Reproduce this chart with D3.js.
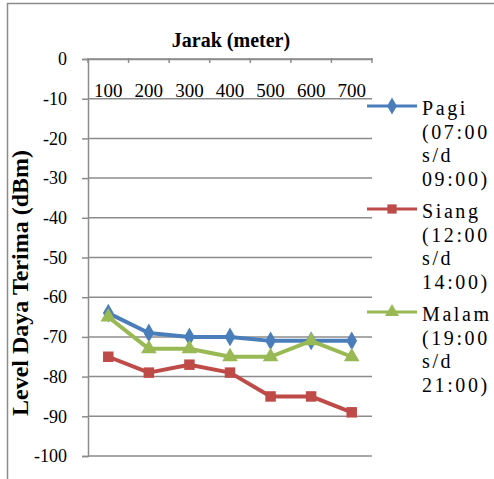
<!DOCTYPE html>
<html>
<head>
<meta charset="utf-8">
<script src="https://cdn.jsdelivr.net/npm/d3@7"></script>
<style>
  body { margin: 0; background: #fff; }
  svg { display: block; }
  svg text { font-family: "Liberation Serif", "Times New Roman", serif; fill: #000; }
</style>
</head>
<body>
<svg width="494" height="479"></svg>
<script>
const width = 494;
const height = 479;

// Data
const jarak = ['100', '200', '300', '400', '500', '600', '700'];
const pagi = [-64, -69, -70, -70, -71, -71, -71];
const siang = [-75, -79, -77, -79, -85, -85, -89];
const malam = [-65, -73, -73, -75, -75, -71, -75];
const yTicks = [0, -10, -20, -30, -40, -50, -60, -70, -80, -90, -100];

const series = [
    { name: ['Pagi', '(07:00', 's/d', '09:00)'], values: pagi, color: '#4a7ebb', symbol: d3.symbolDiamond, size: 100 },
    { name: ['Siang', '(12:00', 's/d', '14:00)'], values: siang, color: '#be4b48', symbol: d3.symbolSquare, size: 110 },
    { name: ['Malam', '(19:00', 's/d', '21:00)'], values: malam, color: '#98b954', symbol: d3.symbolTriangle, size: 105 }
];

const plot = { left: 88, right: 372, top: 59, bottom: 456 };
const gridColor = '#8c8c8c';

const svg = d3.select('svg');

// Outer chart border (clipped at right and bottom)
svg.append('path')
    .attr('d', `M7.5,${height} V3.5 H${width}`)
    .attr('fill', 'none')
    .attr('stroke', gridColor)
    .attr('stroke-width', 1.5);

const xScale = d3.scaleBand()
    .domain(jarak)
    .range([plot.left, plot.right]);

const yScale = d3.scaleLinear()
    .domain([-100, 0])
    .range([plot.bottom, plot.top]);

// Gridlines
svg.append('g')
    .selectAll('line')
    .data(yTicks)
    .enter().append('line')
    .attr('x1', plot.left)
    .attr('x2', plot.right)
    .attr('y1', d => yScale(d))
    .attr('y2', d => yScale(d))
    .attr('stroke', gridColor)
    .attr('stroke-width', 1.5);

// Y axis
const yAxis = d3.axisLeft(yScale)
    .tickValues(yTicks)
    .tickSize(6)
    .tickPadding(15)
    .tickFormat(d => String(d));

const yG = svg.append('g')
    .attr('transform', `translate(${plot.left}, 0)`)
    .call(yAxis);
yG.select('.domain').attr('stroke', gridColor).attr('stroke-width', 1.5);
yG.selectAll('.tick line').attr('stroke', gridColor).attr('stroke-width', 1.5);
yG.selectAll('.tick text')
    .style('font-size', '18px');

// X axis at top (value 0)
const xAxis = d3.axisBottom(xScale)
    .tickSize(0)
    .tickPadding(25);

const xG = svg.append('g')
    .attr('transform', `translate(0, ${yScale(0)})`)
    .call(xAxis);
xG.select('.domain').attr('stroke', gridColor).attr('stroke-width', 1.5);
xG.selectAll('.tick text')
    .style('font-size', '19px');

// Category boundary tick marks
const bounds = jarak.map(d => xScale(d)).concat([plot.right]);
xG.selectAll('.bound')
    .data(bounds)
    .enter().append('line')
    .attr('class', 'bound')
    .attr('x1', d => d)
    .attr('x2', d => d)
    .attr('y1', -1)
    .attr('y2', 4)
    .attr('stroke', gridColor)
    .attr('stroke-width', 1.5);

// Lines and markers
const cx = i => xScale(jarak[i]) + xScale.bandwidth() / 2;
const line = d3.line()
    .x((d, i) => cx(i))
    .y(d => yScale(d));

series.forEach(s => {
    svg.append('path')
        .datum(s.values)
        .attr('d', line)
        .attr('fill', 'none')
        .attr('stroke', s.color)
        .attr('stroke-width', 4)
        .attr('stroke-linejoin', 'round');

    svg.append('g')
        .selectAll('path')
        .data(s.values)
        .enter().append('path')
        .attr('d', d3.symbol().type(s.symbol).size(s.size))
        .attr('transform', (d, i) => `translate(${cx(i)}, ${yScale(d)})`)
        .attr('fill', s.color);
});

// Title
svg.append('text')
    .attr('x', 231)
    .attr('y', 47)
    .attr('text-anchor', 'middle')
    .style('font-weight', 'bold')
    .style('font-size', '20px')
    .text('Jarak (meter)');

// Y axis title
svg.append('text')
    .attr('transform', 'translate(28, 283) rotate(-90)')
    .attr('text-anchor', 'middle')
    .style('font-weight', 'bold')
    .style('font-size', '24px')
    .text('Level Daya Terima (dBm)');

// Legend
const legend = svg.append('g');
series.forEach((s, i) => {
    const y0 = 106 + i * 103;
    legend.append('line')
        .attr('x1', 367)
        .attr('x2', 417)
        .attr('y1', y0)
        .attr('y2', y0)
        .attr('stroke', s.color)
        .attr('stroke-width', 3);
    legend.append('path')
        .attr('d', d3.symbol().type(s.symbol).size(85))
        .attr('transform', `translate(392, ${y0})`)
        .attr('fill', s.color);
    s.name.forEach((t, j) => {
        legend.append('text')
            .attr('x', 422)
            .attr('y', y0 + 9 + j * 23.5)
            .style('font-size', '20px')
            .style('letter-spacing', '2.6px')
            .text(t);
    });
});
</script>
</body>
</html>
